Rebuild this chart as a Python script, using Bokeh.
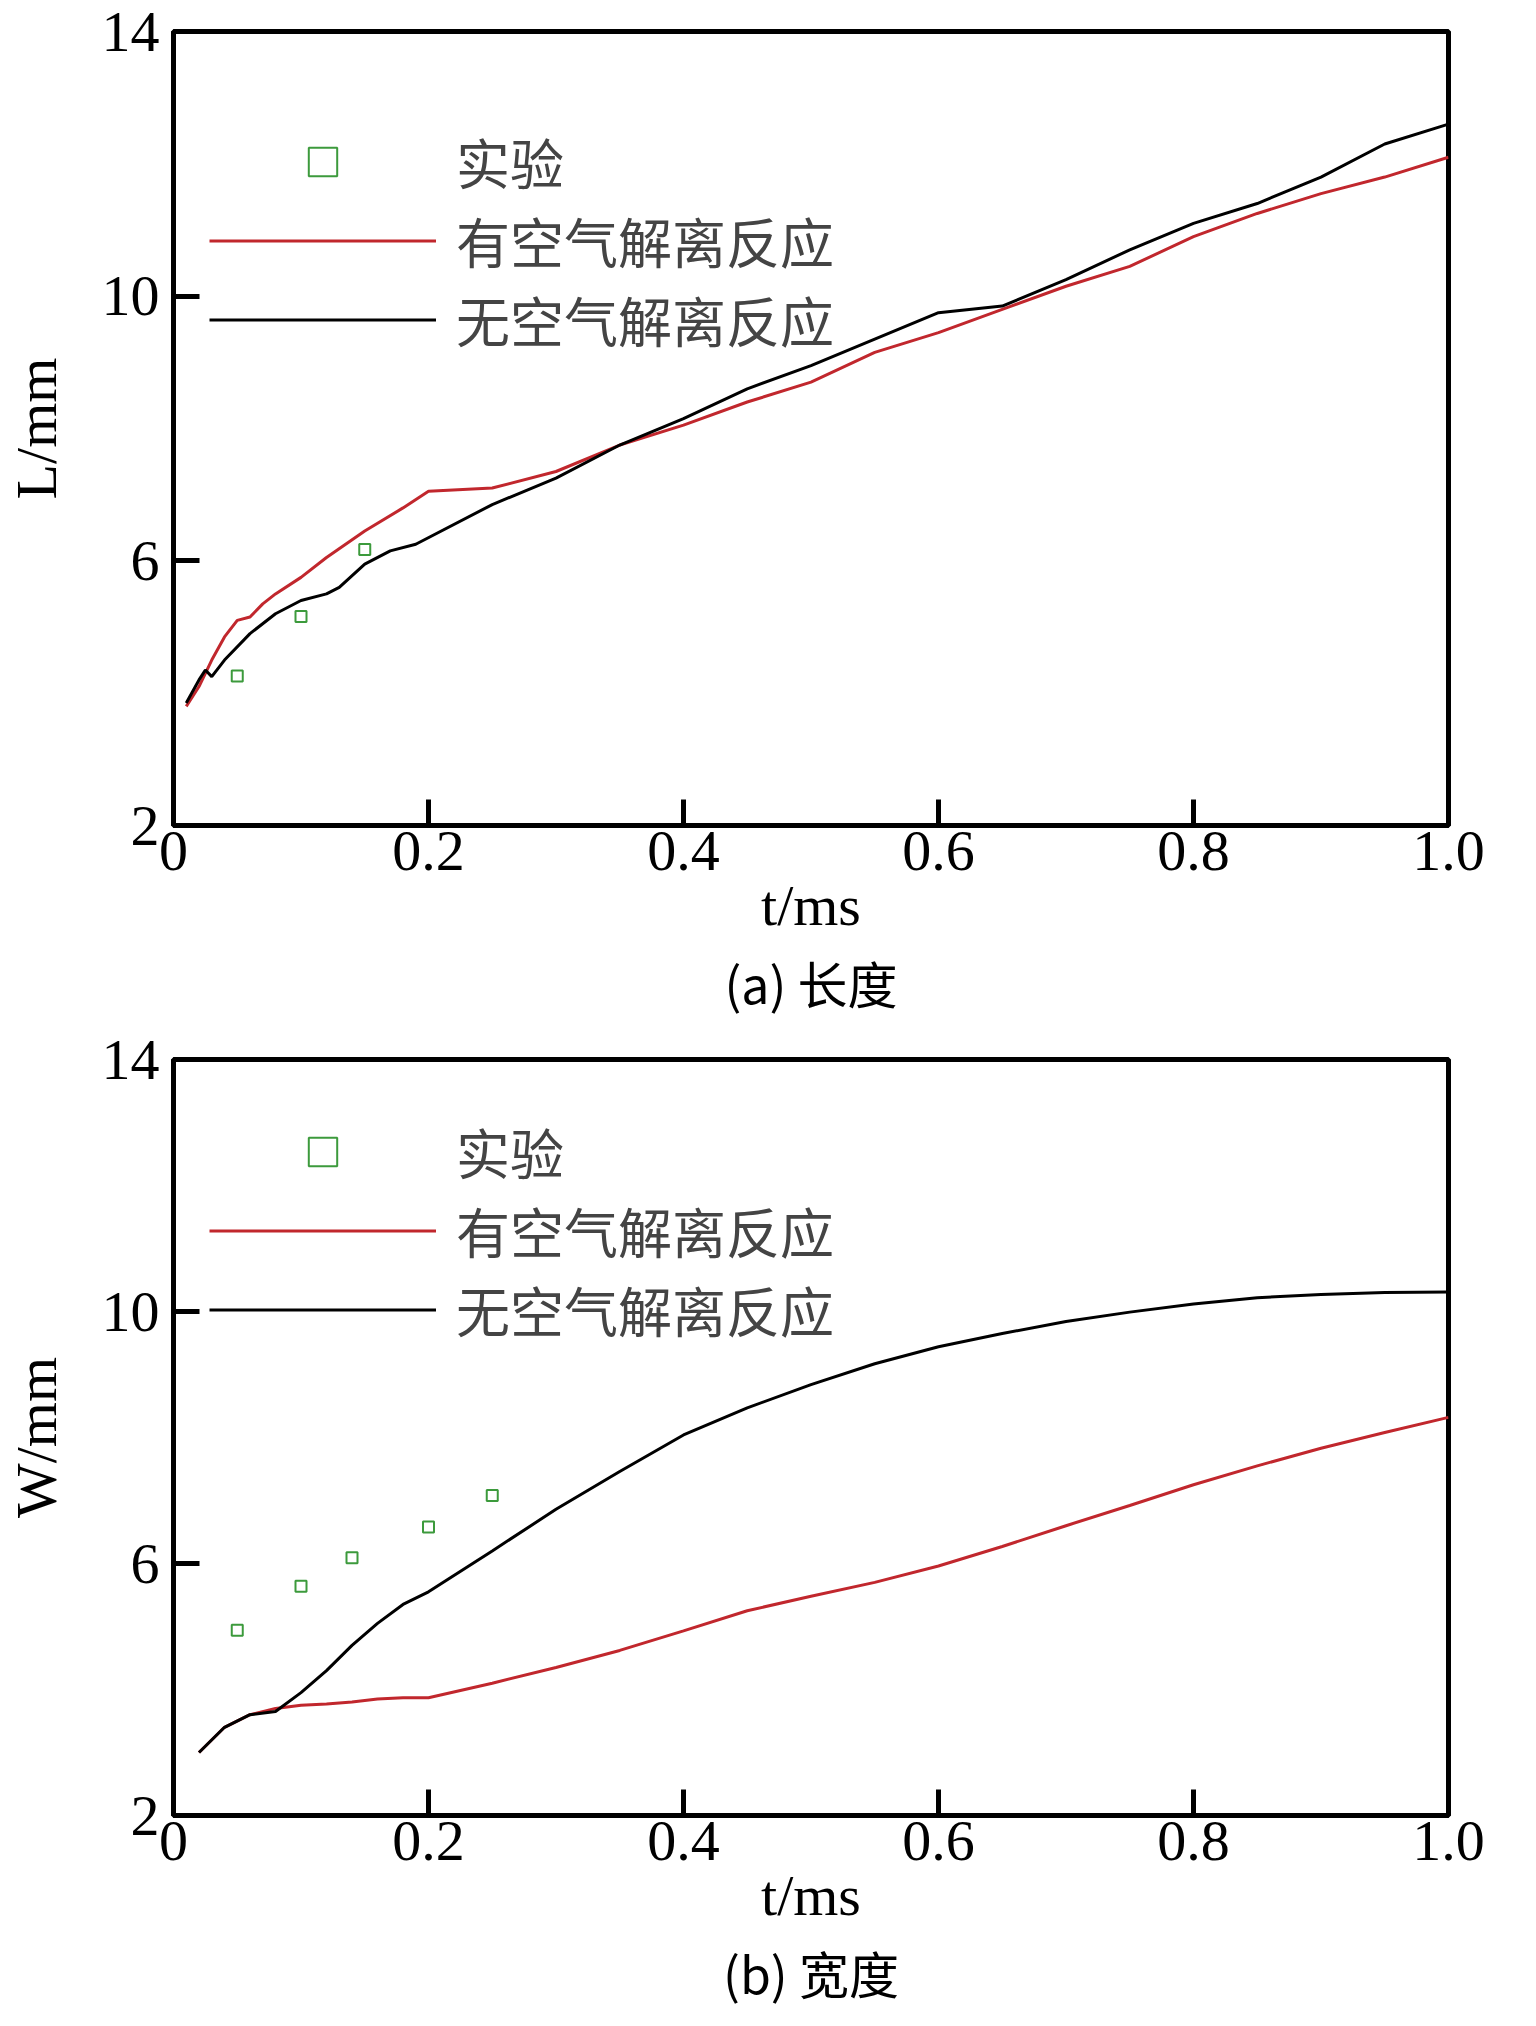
from bokeh.plotting import figure
from bokeh.layouts import column
from bokeh.models import Legend, LegendItem, FixedTicker, Title
from bokeh.embed import file_html
from bokeh.resources import INLINE

# ---- data (a) length ----
L_exp_t = [0.05, 0.10, 0.15]
L_exp_v = [4.26, 5.16, 6.17]
L_red_t = [0.01, 0.02, 0.03, 0.04, 0.05, 0.06, 0.07, 0.08, 0.10, 0.12, 0.15, 0.18, 0.20, 0.25, 0.30,
           0.35, 0.40, 0.45, 0.50, 0.55, 0.60, 0.65, 0.70, 0.75, 0.80, 0.85, 0.90, 0.95, 1.00]
L_red_v = [3.80, 4.10, 4.50, 4.85, 5.10, 5.15, 5.35, 5.50, 5.75, 6.05, 6.45, 6.80, 7.05, 7.10, 7.35,
           7.75, 8.05, 8.40, 8.70, 9.15, 9.45, 9.80, 10.15, 10.45, 10.90, 11.25, 11.55, 11.80, 12.10]
L_blk_t = [0.01, 0.02, 0.025, 0.03, 0.04, 0.06, 0.08, 0.10, 0.12, 0.13, 0.15, 0.17, 0.19, 0.25, 0.30,
           0.35, 0.40, 0.45, 0.50, 0.55, 0.60, 0.65, 0.70, 0.75, 0.80, 0.85, 0.90, 0.95, 1.00]
L_blk_v = [3.85, 4.20, 4.35, 4.25, 4.50, 4.90, 5.20, 5.40, 5.50, 5.60, 5.95, 6.15, 6.25, 6.85, 7.25,
           7.75, 8.15, 8.60, 8.95, 9.35, 9.75, 9.85, 10.25, 10.70, 11.10, 11.40, 11.80, 12.30, 12.60]

# ---- data (b) width ----
W_exp_t = [0.05, 0.10, 0.14, 0.20, 0.25]
W_exp_v = [4.94, 5.64, 6.09, 6.58, 7.08]
W_red_t = [0.02, 0.04, 0.06, 0.08, 0.10, 0.12, 0.14, 0.16, 0.18, 0.20, 0.25, 0.30, 0.35, 0.40,
           0.45, 0.50, 0.55, 0.60, 0.65, 0.70, 0.75, 0.80, 0.85, 0.90, 0.95, 1.00]
W_red_v = [3.00, 3.40, 3.60, 3.70, 3.75, 3.77, 3.80, 3.85, 3.87, 3.87, 4.10, 4.35, 4.62, 4.93,
           5.25, 5.48, 5.70, 5.96, 6.27, 6.60, 6.92, 7.25, 7.55, 7.83, 8.08, 8.32]
W_blk_t = [0.02, 0.04, 0.06, 0.08, 0.10, 0.12, 0.14, 0.16, 0.18, 0.20, 0.25, 0.30, 0.35, 0.40,
           0.45, 0.50, 0.55, 0.60, 0.65, 0.70, 0.75, 0.80, 0.85, 0.90, 0.95, 1.00]
W_blk_v = [3.00, 3.40, 3.60, 3.65, 3.95, 4.30, 4.70, 5.05, 5.35, 5.55, 6.20, 6.86, 7.46, 8.04,
           8.47, 8.84, 9.17, 9.44, 9.65, 9.84, 9.99, 10.12, 10.22, 10.27, 10.30, 10.31]

legend_labels = ["实验", "有空气解离反应", "无空气解离反应"]
x_ticks = [0, 0.2, 0.4, 0.6, 0.8, 1.0]
x_tick_labels = ["0", "0.2", "0.4", "0.6", "0.8", "1.0"]
y_ticks = [2, 6, 10, 14]

RED = "#c1272d"
GREEN = "#3c9a3c"
SERIF = "Liberation Serif"
CJK = "Noto Sans CJK SC"
FS = "58px"


def make(exp_t, exp_v, red_t, red_v, blk_t, blk_v, ylab, caption, height, top):
    p = figure(width=1508, height=height, x_range=(0, 1.0), y_range=(2, 14),
               output_backend="svg", toolbar_location=None,
               min_border_left=40, min_border_right=60, min_border_top=top, min_border_bottom=0)
    p.grid.visible = False
    p.outline_line_color = "black"
    p.outline_line_width = 5
    for ax in (p.xaxis[0], p.yaxis[0]):
        ax.axis_line_width = 5
        ax.major_tick_in = 26
        ax.major_tick_out = 0
        ax.major_tick_line_width = 5
        ax.minor_tick_line_color = None
        ax.major_label_text_font = SERIF
        ax.major_label_text_font_size = FS
        ax.major_label_text_color = "black"
        ax.axis_label_text_font = SERIF
        ax.axis_label_text_font_size = FS
        ax.axis_label_text_font_style = "normal"
        ax.axis_label_text_color = "black"
    p.xaxis.ticker = FixedTicker(ticks=x_ticks)
    p.xaxis.major_label_overrides = {t: s for t, s in zip(x_ticks, x_tick_labels)}
    p.yaxis.ticker = FixedTicker(ticks=y_ticks)
    p.xaxis.major_label_standoff = 6
    p.yaxis.major_label_standoff = 14
    p.xaxis.axis_label = "t/ms"
    p.xaxis.axis_label_standoff = 0
    p.yaxis.axis_label = ylab + "/mm"
    p.yaxis.axis_label_standoff = 30

    s = p.scatter(exp_t, exp_v, marker="square", size=11, fill_color=None,
                  line_color=GREEN, line_width=2)
    r = p.line(red_t, red_v, line_color=RED, line_width=3)
    b = p.line(blk_t, blk_v, line_color="black", line_width=3)

    leg = Legend(items=[LegendItem(label=legend_labels[0], renderers=[s]),
                        LegendItem(label=legend_labels[1], renderers=[r]),
                        LegendItem(label=legend_labels[2], renderers=[b])],
                 location=(36, 466), background_fill_alpha=0, border_line_color=None,
                 padding=0, margin=0, spacing=0, glyph_width=227, glyph_height=71,
                 label_height=71, label_standoff=20,
                 label_text_font=CJK, label_text_font_size="54px")
    p.add_layout(leg)

    p.add_layout(Title(text=caption, align="center", text_font=CJK, text_font_size="50px",
                       text_font_style="normal", text_color="black", standoff=6), "below")
    return p


p1 = make(L_exp_t, L_exp_v, L_red_t, L_red_v, L_blk_t, L_blk_v, "L", "(a) 长度", 1020, 31)
p2 = make(W_exp_t, W_exp_v, W_red_t, W_red_v, W_blk_t, W_blk_v, "W", "(b) 宽度", 990, 39)

lay = column(p1, p2, spacing=0)
open("out.html", "w").write(file_html(lay, INLINE))
